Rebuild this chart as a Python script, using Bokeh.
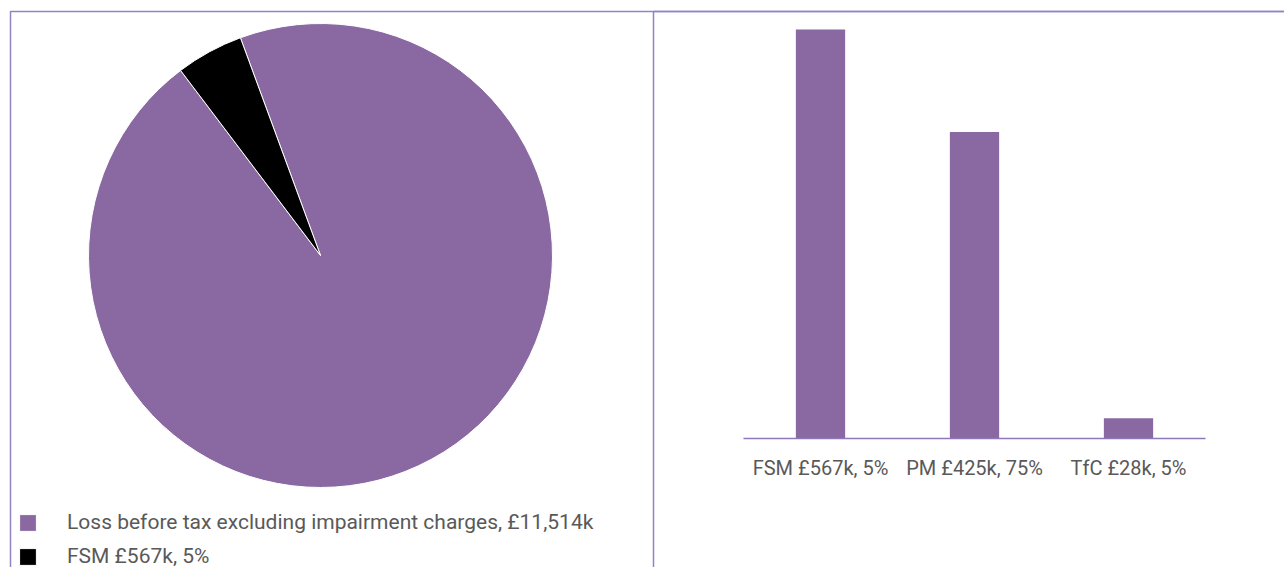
import numpy as np
from bokeh.plotting import figure
from bokeh.models import Range1d, BoxAnnotation, Legend, LegendItem
from bokeh.core.properties import value
from bokeh.embed import file_html
from bokeh.resources import INLINE

# ---- data ----
pie_labels = ["Loss before tax excluding impairment charges, \u00a311,514k", "FSM \u00a3567k, 5%"]
pie_values = [11514, 567]
pie_colors = ["#8a69a2", "#000000"]

bar_categories = ["FSM \u00a3567k, 5%", "PM \u00a3425k, 75%", "TfC \u00a328k, 5%"]
bar_values = [567, 425, 28]

PURPLE = "#8a69a2"
BORDER = "#9383c5"
AXIS = "#8e78b8"
TEXT = "#595959"
FONT = "Roboto"

W, H = 1284, 567
p = figure(width=W, height=H, x_range=Range1d(0, W), y_range=Range1d(0, H),
           output_backend="svg", toolbar_location=None, min_border=0,
           x_axis_location=None, y_axis_location=None)
p.outline_line_color = None
p.grid.visible = False

# ---- pie (pixel-like data space) ----
vals = np.array(pie_values, dtype=float)
frac = vals / vals.sum()
first_angle = np.deg2rad(110.2)
ends = first_angle - np.cumsum(frac) * 2 * np.pi
starts = np.concatenate([[first_angle], ends[:-1]])
cx, cy, r = 320, H - 255, 232
wedges = []
for i in range(len(pie_values)):
    wr = p.wedge(x=cx, y=cy, radius=r, start_angle=starts[i], end_angle=ends[i],
                 direction="clock", fill_color=pie_colors[i], line_color="white", line_width=1)
    wedges.append(wr)

legend = Legend(items=[LegendItem(label=pie_labels[i], renderers=[wedges[i]]) for i in range(len(pie_labels))],
                location=(17, -1), orientation="vertical")
legend.glyph_width = 21
legend.glyph_height = 21
legend.label_standoff = 29
legend.spacing = 10
legend.padding = 0
legend.margin = 0
legend.border_line_color = None
legend.background_fill_alpha = 0
legend.label_text_font = FONT
legend.label_text_font_size = "21px"
legend.label_text_color = TEXT
p.add_layout(legend)

# ---- bar chart on its own scales ----
n = len(bar_categories)
unit_px = 154.0          # pixels per category
first_center_px = 820.0  # screen x of first category centre
base_px = H - 438        # baseline height from bottom
top_px = H - 29          # height of largest bar top from bottom
vmax = max(bar_values)
px_per_val = (top_px - base_px) / vmax
p.extra_x_ranges = {"bx": Range1d(-first_center_px / unit_px, (W - first_center_px) / unit_px)}
p.extra_y_ranges = {"by": Range1d(-base_px / px_per_val, (H - base_px) / px_per_val)}

idx = np.arange(n)
p.vbar(x=idx, top=bar_values, width=0.32, fill_color=PURPLE, line_color=None,
       x_range_name="bx", y_range_name="by")
p.segment(x0=[-0.5], x1=[n - 0.5], y0=[0], y1=[0], line_color=AXIS, line_width=1.5,
          x_range_name="bx", y_range_name="by")
p.text(x=idx, y=[-29 / px_per_val] * n, text=bar_categories, text_align="center", text_baseline="middle",
       text_font=value(FONT), text_font_size="20px", text_color=TEXT,
       x_range_name="bx", y_range_name="by")

# ---- panel borders ----
for left in (10, 653):
    p.add_layout(BoxAnnotation(left=left, right=W + 20, top=11, bottom=H + 20,
                               left_units="canvas", right_units="canvas",
                               top_units="canvas", bottom_units="canvas",
                               fill_alpha=0, line_color=BORDER, line_alpha=1.0, line_width=1.5))

open("out.html", "w").write(file_html(p, INLINE))
